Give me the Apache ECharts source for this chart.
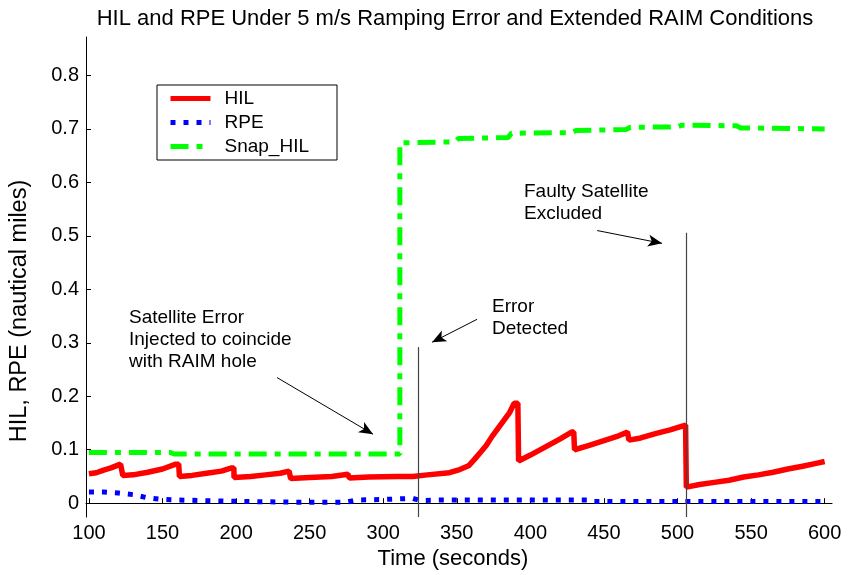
<!DOCTYPE html>
<html>
<head>
<meta charset="utf-8">
<script src="https://cdn.jsdelivr.net/npm/echarts@6/dist/echarts.min.js"></script>
<style>
html,body{margin:0;padding:0;background:#fff;}
#chart{width:848px;height:575px;}
</style>
</head>
<body>
<div id="chart"></div>
<script>
// ---- data ----
const xTicks = [100, 150, 200, 250, 300, 350, 400, 450, 500, 550, 600];
const yTicks = [0, 0.1, 0.2, 0.3, 0.4, 0.5, 0.6, 0.7, 0.8];

const hilTime  = [100, 105, 110, 115, 121.5, 122.5, 123, 130, 140, 150, 159, 161, 161.5, 170, 180, 190, 197, 198.5, 198.6, 210, 220, 230, 236, 237, 237.1, 250, 265, 276, 277, 290, 310, 320, 330, 345, 352, 358, 362, 366, 370, 374, 378, 382, 386, 389, 391.5, 392, 400, 410, 420, 428, 429.5, 430, 440, 450, 460, 466, 467, 475, 485, 495, 505.5, 506, 515, 525, 535, 545, 555, 565, 575, 585, 595, 600];
const hilValue = [0.055, 0.057, 0.062, 0.066, 0.073, 0.073, 0.052, 0.053, 0.058, 0.064, 0.073, 0.073, 0.050, 0.052, 0.056, 0.060, 0.066, 0.066, 0.048, 0.050, 0.053, 0.056, 0.060, 0.060, 0.046, 0.048, 0.050, 0.054, 0.047, 0.049, 0.050, 0.050, 0.053, 0.057, 0.063, 0.070, 0.082, 0.095, 0.108, 0.125, 0.140, 0.155, 0.170, 0.187, 0.187, 0.079, 0.090, 0.105, 0.120, 0.133, 0.133, 0.100, 0.108, 0.117, 0.126, 0.133, 0.118, 0.122, 0.130, 0.137, 0.146, 0.030, 0.035, 0.039, 0.043, 0.049, 0.053, 0.058, 0.064, 0.069, 0.075, 0.078];

const rpeTime  = [100, 110, 120, 130, 140, 150, 160, 175, 190, 210, 240, 275, 282, 300, 320, 325, 340, 380, 440, 442, 500, 600];
const rpeValue = [0.021, 0.021, 0.019, 0.016, 0.010, 0.007, 0.006, 0.005, 0.004, 0.003, 0.002, 0.002, 0.006, 0.007, 0.009, 0.005, 0.006, 0.006, 0.006, 0.003, 0.003, 0.003];

const snapTime  = [100, 155, 158, 311.3, 311.3, 349, 351, 385, 387, 428, 431, 465, 468, 500, 503, 540, 543, 600];
const snapValue = [0.095, 0.095, 0.092, 0.092, 0.674, 0.676, 0.682, 0.684, 0.692, 0.693, 0.697, 0.699, 0.703, 0.704, 0.707, 0.706, 0.702, 0.700];

// annotation anchors (data coordinates)
const eventLines = [[323.5, 0.292], [506, 0.506]];
const arrows = [
  [[227.8, 0.235], [293.1, 0.129]],
  [[363.8, 0.344], [333.2, 0.301]],
  [[445.4, 0.510], [489.5, 0.486]]
];

const zip = (a, b) => a.map((v, i) => [v, b[i]]);
const yMin = -0.026, yMax = 0.872;

const markData = [];
eventLines.forEach(p => {
  markData.push([{coord: [p[0], p[1]], symbol: 'none'}, {coord: [p[0], yMin], symbol: 'none',
    lineStyle: {color: '#444', width: 1.2, type: 'solid'}}]);
});
arrows.forEach(a => {
  markData.push([{coord: a[0], symbol: 'none'}, {coord: a[1], symbol: 'arrow', symbolSize: [9, 14],
    lineStyle: {color: '#000', width: 1, type: 'solid'}}]);
});

const font = 'Arial, "Liberation Sans", Helvetica, sans-serif';
const chart = echarts.init(document.getElementById('chart'), null, {renderer: 'canvas'});
chart.setOption({
  animation: false,
  backgroundColor: '#fff',
  textStyle: {fontFamily: font},
  title: {
    text: 'HIL and RPE Under 5 m/s Ramping Error and Extended RAIM Conditions',
    left: 450, top: 3, textAlign: 'center',
    textStyle: {fontFamily: font, fontSize: 22, fontWeight: 'normal', color: '#000'}
  },
  grid: {left: 86, right: 16, top: 37, bottom: 52, containLabel: false},
  legend: {
    orient: 'vertical', left: 157, top: 85,
    padding: [4, 28, 4, 11],
    itemGap: 5, itemWidth: 40, itemHeight: 14,
    borderColor: '#000', borderWidth: 1, backgroundColor: '#fff',
    itemStyle: {opacity: 0},
    lineStyle: {width: 5, type: 'inherit'},
    textStyle: {fontFamily: font, fontSize: 19, color: '#000', padding: [0, 0, 0, 9]},
    data: ['HIL', 'RPE', 'Snap_HIL']
  },
  xAxis: {
    type: 'value', min: 98, max: 605,
    name: 'Time (seconds)', nameLocation: 'middle', nameGap: 27,
    nameTextStyle: {fontFamily: font, fontSize: 22, color: '#000', padding: [0, 12, 0, 0]},
    axisLine: {lineStyle: {color: '#000', width: 1}},
    axisTick: {inside: true, length: 5, customValues: xTicks, lineStyle: {color: '#000'}},
    axisLabel: {customValues: xTicks, fontFamily: font, fontSize: 20, color: '#000', margin: 6},
    splitLine: {show: false}
  },
  yAxis: {
    type: 'value', min: yMin, max: yMax,
    axisLine: {show: true, lineStyle: {color: '#000', width: 1}},
    axisTick: {show: true, inside: true, length: 5, customValues: yTicks, lineStyle: {color: '#000'}},
    axisLabel: {customValues: yTicks, fontFamily: font, fontSize: 20, color: '#000', margin: 7,
      formatter: v => (Math.abs(v) < 1e-9 ? '0' : v.toFixed(1))},
    splitLine: {show: false}
  },
  graphic: [
    {type: 'text', x: 20, y: 311, rotation: Math.PI / 2,
      style: {text: 'HIL, RPE (nautical miles)', fontFamily: font, fontSize: 23.5, fill: '#000',
        textAlign: 'center', textVerticalAlign: 'middle'}},
    {type: 'text', x: 129, y: 307, style: {text: 'Satellite Error\nInjected to coincide\nwith RAIM hole',
      fontFamily: font, fontSize: 19, lineHeight: 22, fill: '#000'}},
    {type: 'text', x: 492, y: 296, style: {text: 'Error\nDetected',
      fontFamily: font, fontSize: 19, lineHeight: 22, fill: '#000'}},
    {type: 'text', x: 524, y: 181, style: {text: 'Faulty Satellite\nExcluded',
      fontFamily: font, fontSize: 19, lineHeight: 22, fill: '#000'}}
  ],
  series: [
    {
      name: 'HIL', type: 'line', data: zip(hilTime, hilValue), showSymbol: false, symbol: 'none',
      lineStyle: {color: '#ff0000', width: 5.5}, itemStyle: {color: '#ff0000'}, z: 3,
      markLine: {silent: true, animation: false, label: {show: false}, symbol: ['none', 'none'],
        lineStyle: {color: '#000', width: 1, type: 'solid'}, data: markData}
    },
    {
      name: 'RPE', type: 'line', data: zip(rpeTime, rpeValue), showSymbol: false, symbol: 'none',
      lineStyle: {color: '#0000ff', width: 5, type: [5, 8], cap: 'butt'}, itemStyle: {color: '#0000ff'}, z: 2
    },
    {
      name: 'Snap_HIL', type: 'line', data: zip(snapTime, snapValue), showSymbol: false, symbol: 'none',
      lineStyle: {color: '#00ff00', width: 5, type: [18, 8, 6, 8], cap: 'butt'}, itemStyle: {color: '#00ff00'}, z: 2
    }
  ]
});
</script>
</body>
</html>
